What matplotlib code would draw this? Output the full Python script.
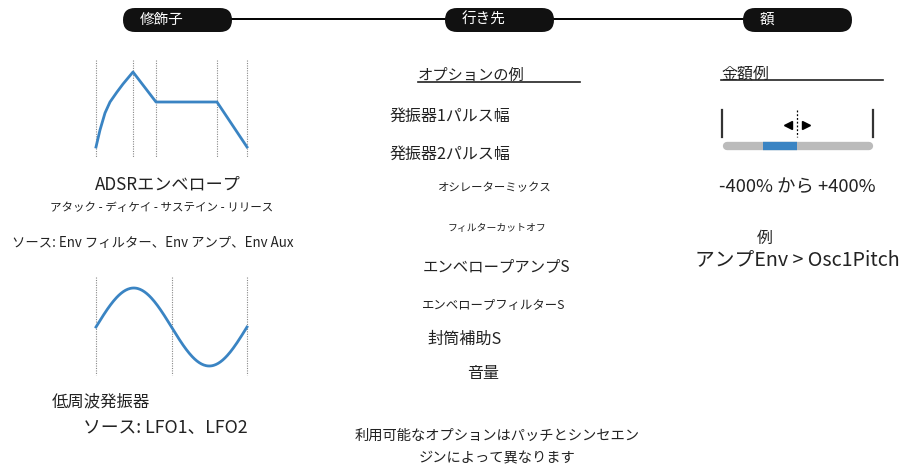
import numpy as np
import matplotlib.pyplot as plt
from matplotlib.patches import FancyBboxPatch

plt.rcParams['font.family'] = ['Noto Sans CJK JP', 'DejaVu Sans']

# header stages
stages = ['修飾子', '行き先', '額']
stage_x = [123, 445, 743]

# ADSR envelope (attack curve points, decay, sustain, release)
adsr_t = [96, 100, 105, 110, 117, 123, 133, 156, 217, 247]
adsr_v = [147, 130, 113, 102, 92, 84, 72, 102, 102, 147]
adsr_marks = [96, 133, 156, 217, 247]

# LFO markers
lfo_marks = [96, 172, 247]

# destination examples: (text, x, y, size)
dest_items = [
    ('発振器1パルス幅', 390, 116, 11.5),
    ('発振器2パルス幅', 390, 154, 11.5),
    ('オシレーターミックス', 438, 188, 8.2),
    ('フィルターカットオフ', 448, 228, 7.1),
    ('エンベロープアンプS', 423, 267, 11.1),
    ('エンベロープフィルターS', 422, 305, 8.9),
    ('封筒補助S', 427, 339, 11.6),
    ('音量', 467, 373, 11.5),
]

# amount slider
slider_min, slider_max = 724, 872
slider_zero, slider_val = 797, 763

blue = '#3a84c3'
dark = '#222222'

fig = plt.figure(figsize=(9.09, 4.65), dpi=100)
ax = fig.add_axes([0, 0, 1, 1])
ax.set_xlim(0, 909)
ax.set_ylim(465, 0)
ax.axis('off')

# header line and pills
ax.plot([230, 745], [19, 19], color='black', lw=1.4, zorder=1)
for name, x in zip(stages, stage_x):
    ax.add_patch(FancyBboxPatch((x, 8), 109, 24, boxstyle='round,pad=0,rounding_size=12',
                                fc='#111111', ec='none', zorder=2))
    ax.text(x + 17, 20, name, color='white', fontsize=10.5, va='center', ha='left', zorder=3)

# ADSR envelope
for m in adsr_marks:
    ax.plot([m, m], [60, 157], color='#888888', lw=0.8, ls=(0, (1, 1.2)))
ax.plot(adsr_t, adsr_v, color=blue, lw=2, solid_joinstyle='round')
ax.text(168, 185, 'ADSRエンベロープ', fontsize=12.3, color=dark, ha='center', va='center')
ax.text(162, 207, 'アタック - ディケイ - サステイン - リリース', fontsize=8.3, color=dark,
        ha='center', va='center')
ax.text(12, 243, 'ソース: Env フィルター、Env アンプ、Env Aux', fontsize=9.6, color=dark,
        ha='left', va='center')

# LFO sine
for m in lfo_marks:
    ax.plot([m, m], [277, 375], color='#888888', lw=0.8, ls=(0, (1, 1.2)))
xs = np.linspace(lfo_marks[0], lfo_marks[-1], 200)
ys = 327 - 39 * np.sin(2 * np.pi * (xs - lfo_marks[0]) / (lfo_marks[-1] - lfo_marks[0]))
ax.plot(xs, ys, color=blue, lw=2)
ax.text(52, 402, '低周波発振器', fontsize=11.8, color=dark, ha='left', va='center')
ax.text(83, 428, 'ソース: LFO1、LFO2', fontsize=12.8, color=dark, ha='left', va='center')

# destination column
ax.text(418, 75, 'オプションの例', fontsize=11, color=dark, ha='left', va='center')
ax.plot([418, 580], [82, 82], color=dark, lw=1.2)
for txt, x, y, s in dest_items:
    ax.text(x, y, txt, fontsize=s, color=dark, ha='left', va='center')
ax.text(497, 436, '利用可能なオプションはパッチとシンセエン', fontsize=10.3, color=dark,
        ha='center', va='center')
ax.text(497, 458, 'ジンによって異なります', fontsize=10.3, color=dark, ha='center', va='center')

# amount column
ax.text(721, 74, '金額例', fontsize=11.5, color=dark, ha='left', va='center')
ax.plot([721, 883], [80, 80], color=dark, lw=1.2)
ax.plot([slider_min - 2, slider_min - 2], [110, 137], color='#333333', lw=1.6)
ax.plot([slider_max + 1, slider_max + 1], [110, 137], color='#333333', lw=1.6)
ax.plot([slider_min + 3, slider_max - 3], [146, 146], color='#bbbbbb', lw=6, solid_capstyle='round')
ax.plot([slider_val, slider_zero], [146, 146], color=blue, lw=6, solid_capstyle='butt')
ax.plot([slider_zero, slider_zero], [110, 137], color='black', lw=0.9, ls=(0, (1.5, 1.5)))
ax.plot([slider_zero - 9], [125], marker='<', color='black', ms=6)
ax.plot([slider_zero + 9], [125], marker='>', color='black', ms=6)
ax.text(797, 187, '-400% から +400%', fontsize=13.2, color=dark, ha='center', va='center')
ax.text(765, 238, '例', fontsize=11.5, color=dark, ha='center', va='center')
ax.text(797, 260, 'アンプEnv > Osc1Pitch', fontsize=14.2, color=dark, ha='center', va='center')

fig.savefig('out.png', dpi=100)
